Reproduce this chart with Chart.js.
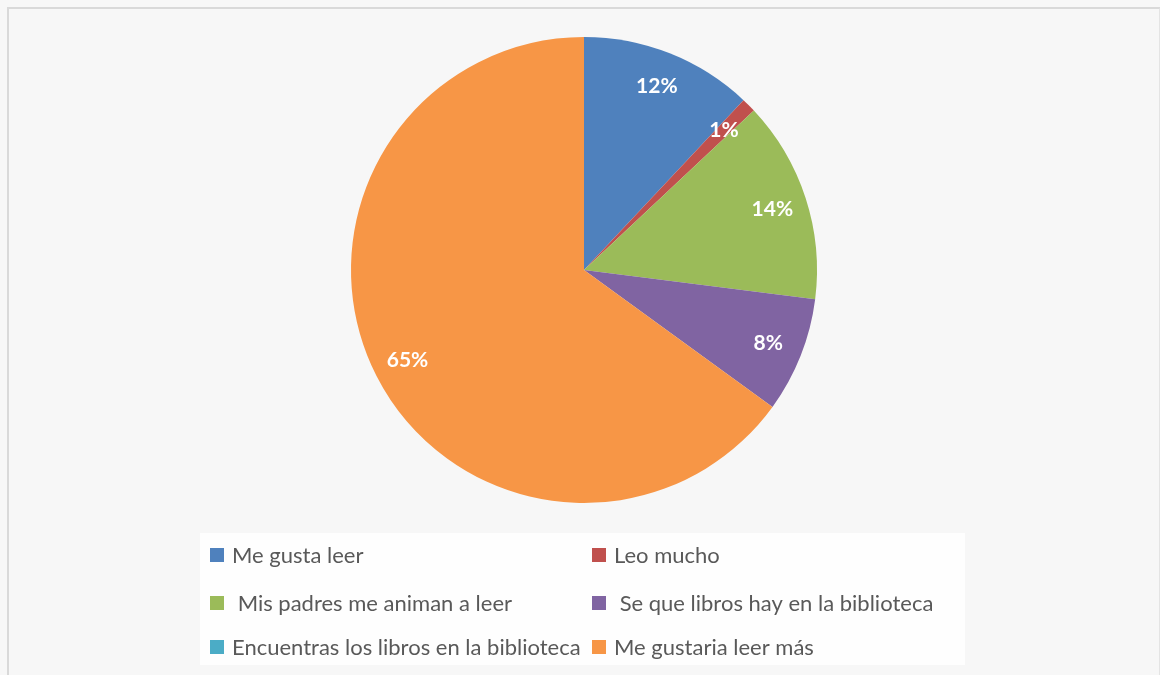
<!DOCTYPE html>
<html>
<head>
<meta charset="utf-8">
<script src="https://cdn.jsdelivr.net/npm/chart.js@4"></script>
<style>
  html, body { margin: 0; padding: 0; background: #f7f7f7; }
  #frame { position: absolute; left: 7px; top: 7px; width: 1150px; height: 680px;
           border-left: 2px solid #d9d9d9; border-top: 2px solid #d9d9d9; border-right: 2px solid #e4e4e4; }
  #wrap { position: absolute; left: 0; top: 0; width: 1160px; height: 675px; }
</style>
</head>
<body>
<div id="frame"></div>
<div id="wrap"><canvas id="pie"></canvas></div>
<script>
var labels = ['Me gusta leer', 'Leo mucho', ' Mis padres me animan a leer', ' Se que libros hay en la biblioteca',
              'Encuentras los libros en la biblioteca', 'Me gustaria leer más'];
var values = [12, 1, 14, 8, 0, 65];
var colors = ['#4f81bd', '#c0504d', '#9bbb59', '#8064a2', '#4bacc6', '#f79646'];

// percentage labels inside the slices
var sliceLabels = {
  id: 'sliceLabels',
  afterDatasetsDraw: function(chart) {
    var ctx = chart.ctx;
    var total = values.reduce(function(a, b) { return a + b; }, 0);
    ctx.save();
    ctx.font = 'bold 21px Lato';
    ctx.fillStyle = '#ffffff';
    ctx.textAlign = 'center';
    ctx.textBaseline = 'middle';
    chart.getDatasetMeta(0).data.forEach(function(arc, i) {
      if (!values[i]) return;
      var p = arc.getProps(['x', 'y', 'startAngle', 'endAngle', 'outerRadius']);
      var mid = (p.startAngle + p.endAngle) / 2;
      var r = p.outerRadius * 0.85;
      ctx.fillText(Math.round(values[i] / total * 100) + '%', p.x + Math.cos(mid) * r, p.y + Math.sin(mid) * r);
    });
    ctx.restore();
  }
};

// two-column legend in a white box under the pie
var boxLegend = {
  id: 'boxLegend',
  afterDraw: function(chart) {
    var ctx = chart.ctx;
    ctx.save();
    ctx.fillStyle = 'rgba(255,255,255,0.85)';
    ctx.fillRect(200, 533, 765, 132);
    ctx.font = '22px Lato';
    ctx.textBaseline = 'middle';
    var cols = [210, 592], rows = [556, 604, 648];
    labels.forEach(function(lab, i) {
      var x = cols[i % 2], y = rows[Math.floor(i / 2)];
      ctx.fillStyle = colors[i];
      ctx.fillRect(x, y - 8, 14, 14);
      ctx.fillStyle = '#595959';
      ctx.fillText(lab, x + 22, y);
    });
    ctx.restore();
  }
};

new Chart(document.getElementById('pie'), {
  type: 'pie',
  data: {
    labels: labels,
    datasets: [{ data: values, backgroundColor: colors, borderWidth: 0 }]
  },
  options: {
    responsive: true,
    maintainAspectRatio: false,
    animation: false,
    layout: { padding: { left: 351, right: 343, top: 37, bottom: 172 } },
    plugins: { legend: { display: false }, tooltip: { enabled: false } }
  },
  plugins: [sliceLabels, boxLegend]
});
</script>
</body>
</html>
